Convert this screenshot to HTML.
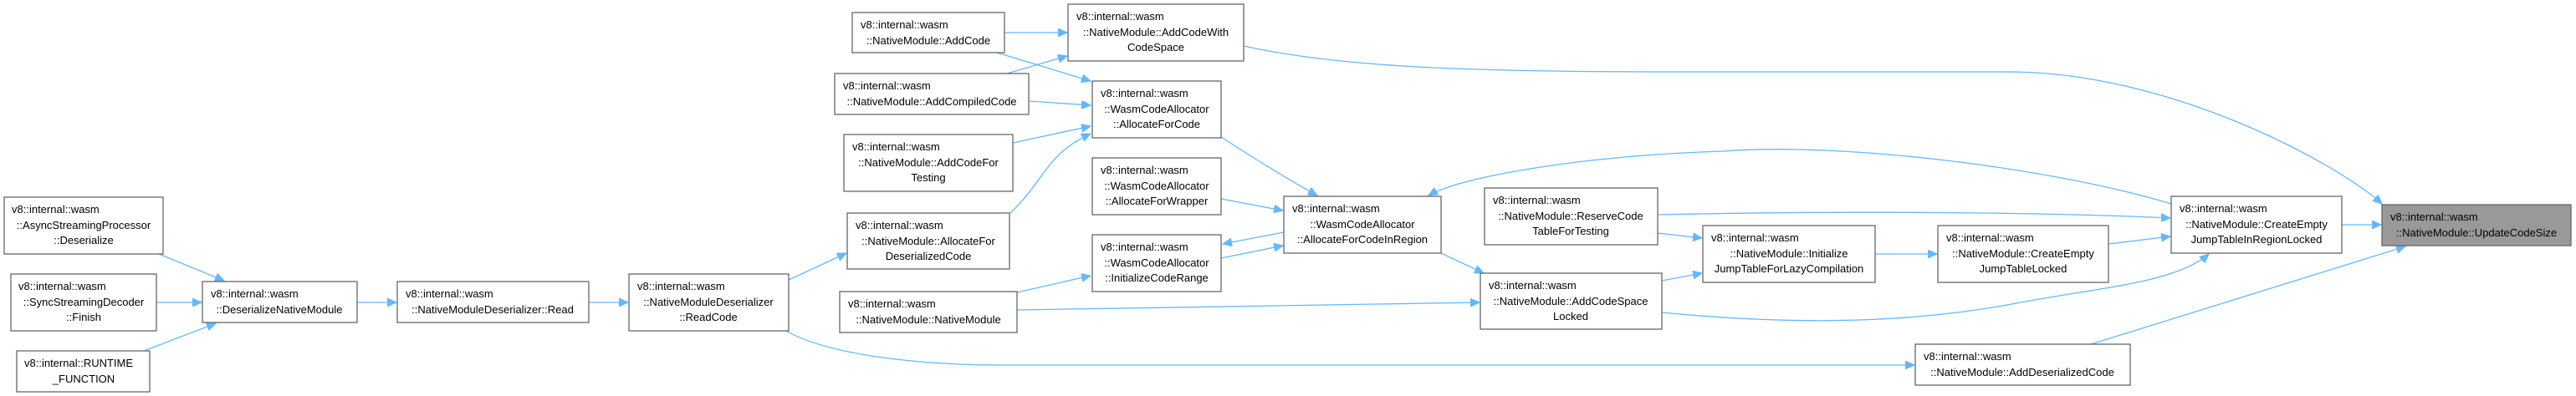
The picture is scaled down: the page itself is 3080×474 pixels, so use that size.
<!DOCTYPE html>
<html><head><meta charset="utf-8"><style>
html,body{margin:0;padding:0;background:#fff;width:3080px;height:474px;overflow:hidden}
svg text{font-family:"Liberation Sans",sans-serif;font-size:13px;fill:#000}
</style></head><body>
<svg width="3080" height="474" viewBox="0 0 3080 474" xmlns="http://www.w3.org/2000/svg">
<defs><marker id="a" markerUnits="userSpaceOnUse" markerWidth="12" markerHeight="10" refX="11" refY="5" orient="auto"><path d="M0,0 L11,5 L0,10 z" fill="#63b8ff" stroke="#63b8ff"/></marker></defs>
<g fill="none" stroke="#63b8ff" stroke-width="1.3" marker-end="url(#a)">
<path d="M190,304 L268,336"/>
<path d="M187,362 L241,362"/>
<path d="M172,420 L258,387"/>
<path d="M427,362 L474,362"/>
<path d="M704,362 L751,362"/>
<path d="M943,335 L1012,303"/>
<path d="M940,396 C990,425 1100,437 1200,437 L2289,437"/>
<path d="M1201,39 L1276,39"/>
<path d="M1192,63 L1304,97"/>
<path d="M1204,88 L1276,67"/>
<path d="M1230,121 L1304,126"/>
<path d="M1211,171 L1304,151"/>
<path d="M1208,255 C1250,215 1250,185 1304,160"/>
<path d="M1460,164 C1500,190 1540,215 1575,234"/>
<path d="M1460,238 L1534,252"/>
<path d="M1535,278 L1462,292"/>
<path d="M1460,309 L1534,294"/>
<path d="M1216,350 L1304,330"/>
<path d="M1216,371 L1769,362"/>
<path d="M1723,303 L1774,327"/>
<path d="M1487,55 C1600,80 1750,86 2000,86 L2400,86 C2600,86 2800,200 2848,244"/>
<path d="M2596,244 C2450,200 2200,170 2060,181 C1900,186 1750,210 1708,234"/>
<path d="M1982,257 C2200,252 2450,254 2595,261"/>
<path d="M1982,279 L2035,285"/>
<path d="M1987,336 L2035,327"/>
<path d="M1987,374 C2100,385 2250,392 2400,365 C2500,345 2600,340 2641,304"/>
<path d="M2242,304 L2316,304"/>
<path d="M2521,292 L2595,283"/>
<path d="M2800,269 L2847,269"/>
<path d="M2500,412 L2876,295"/>
</g>
<g stroke="#666" stroke-width="1.3" fill="#fff">
<rect x="5" y="236" width="190" height="68"/>
<rect x="13" y="328" width="174" height="68"/>
<rect x="20" y="420" width="159" height="49"/>
<rect x="242" y="337" width="185" height="49"/>
<rect x="475" y="337" width="229" height="49"/>
<rect x="752" y="328" width="191" height="68"/>
<rect x="1019" y="15" width="182" height="48"/>
<rect x="1277" y="5" width="210" height="68"/>
<rect x="998" y="88" width="232" height="49"/>
<rect x="1306" y="97" width="154" height="68"/>
<rect x="1009" y="161" width="202" height="68"/>
<rect x="1306" y="189" width="154" height="68"/>
<rect x="1013" y="255" width="194" height="67"/>
<rect x="1306" y="281" width="154" height="68"/>
<rect x="1004" y="349" width="212" height="49"/>
<rect x="1535" y="235" width="188" height="68"/>
<rect x="1775" y="225" width="207" height="68"/>
<rect x="1770" y="327" width="217" height="67"/>
<rect x="2036" y="270" width="206" height="68"/>
<rect x="2317" y="270" width="204" height="68"/>
<rect x="2596" y="235" width="204" height="68"/>
<rect x="2848" y="245" width="226" height="49" fill="#999"/>
<rect x="2290" y="412" width="257" height="49"/>
</g>
<g>
<text x="14" y="255">v8::internal::wasm</text><text x="100" y="274" text-anchor="middle">::AsyncStreamingProcessor</text><text x="100" y="292" text-anchor="middle">::Deserialize</text>
<text x="22" y="347">v8::internal::wasm</text><text x="100" y="366" text-anchor="middle">::SyncStreamingDecoder</text><text x="100" y="384" text-anchor="middle">::Finish</text>
<text x="29" y="439">v8::internal::RUNTIME</text><text x="100" y="458" text-anchor="middle">_FUNCTION</text>
<text x="252" y="356">v8::internal::wasm</text><text x="334" y="375" text-anchor="middle">::DeserializeNativeModule</text>
<text x="485" y="356">v8::internal::wasm</text><text x="589" y="375" text-anchor="middle">::NativeModuleDeserializer::Read</text>
<text x="762" y="347">v8::internal::wasm</text><text x="847" y="366" text-anchor="middle">::NativeModuleDeserializer</text><text x="847" y="384" text-anchor="middle">::ReadCode</text>
<text x="1029" y="34">v8::internal::wasm</text><text x="1110" y="53" text-anchor="middle">::NativeModule::AddCode</text>
<text x="1287" y="24">v8::internal::wasm</text><text x="1382" y="43" text-anchor="middle">::NativeModule::AddCodeWith</text><text x="1382" y="61" text-anchor="middle">CodeSpace</text>
<text x="1008" y="107">v8::internal::wasm</text><text x="1114" y="126" text-anchor="middle">::NativeModule::AddCompiledCode</text>
<text x="1316" y="116">v8::internal::wasm</text><text x="1383" y="135" text-anchor="middle">::WasmCodeAllocator</text><text x="1383" y="153" text-anchor="middle">::AllocateForCode</text>
<text x="1019" y="180">v8::internal::wasm</text><text x="1110" y="199" text-anchor="middle">::NativeModule::AddCodeFor</text><text x="1110" y="217" text-anchor="middle">Testing</text>
<text x="1316" y="208">v8::internal::wasm</text><text x="1383" y="227" text-anchor="middle">::WasmCodeAllocator</text><text x="1383" y="245" text-anchor="middle">::AllocateForWrapper</text>
<text x="1023" y="274">v8::internal::wasm</text><text x="1110" y="293" text-anchor="middle">::NativeModule::AllocateFor</text><text x="1110" y="311" text-anchor="middle">DeserializedCode</text>
<text x="1316" y="300">v8::internal::wasm</text><text x="1383" y="319" text-anchor="middle">::WasmCodeAllocator</text><text x="1383" y="337" text-anchor="middle">::InitializeCodeRange</text>
<text x="1014" y="368">v8::internal::wasm</text><text x="1110" y="387" text-anchor="middle">::NativeModule::NativeModule</text>
<text x="1545" y="254">v8::internal::wasm</text><text x="1629" y="273" text-anchor="middle">::WasmCodeAllocator</text><text x="1629" y="291" text-anchor="middle">::AllocateForCodeInRegion</text>
<text x="1785" y="244">v8::internal::wasm</text><text x="1878" y="263" text-anchor="middle">::NativeModule::ReserveCode</text><text x="1878" y="281" text-anchor="middle">TableForTesting</text>
<text x="1780" y="346">v8::internal::wasm</text><text x="1878" y="365" text-anchor="middle">::NativeModule::AddCodeSpace</text><text x="1878" y="383" text-anchor="middle">Locked</text>
<text x="2046" y="289">v8::internal::wasm</text><text x="2139" y="308" text-anchor="middle">::NativeModule::Initialize</text><text x="2139" y="326" text-anchor="middle">JumpTableForLazyCompilation</text>
<text x="2327" y="289">v8::internal::wasm</text><text x="2419" y="308" text-anchor="middle">::NativeModule::CreateEmpty</text><text x="2419" y="326" text-anchor="middle">JumpTableLocked</text>
<text x="2606" y="254">v8::internal::wasm</text><text x="2698" y="273" text-anchor="middle">::NativeModule::CreateEmpty</text><text x="2698" y="291" text-anchor="middle">JumpTableInRegionLocked</text>
<text x="2858" y="264">v8::internal::wasm</text><text x="2961" y="283" text-anchor="middle">::NativeModule::UpdateCodeSize</text>
<text x="2300" y="431">v8::internal::wasm</text><text x="2418" y="450" text-anchor="middle">::NativeModule::AddDeserializedCode</text>
</g>
</svg>
</body></html>
